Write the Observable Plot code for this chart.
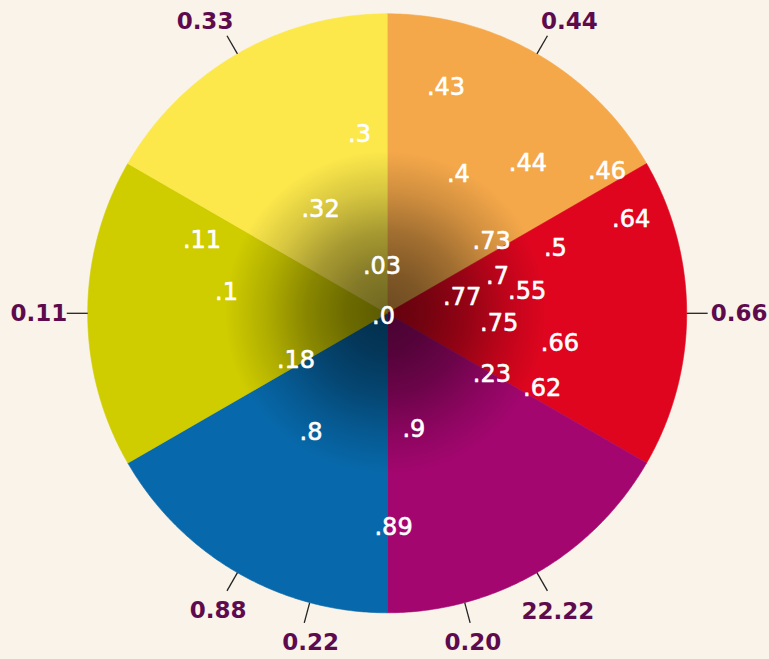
<!DOCTYPE html>
<html>
<head>
<meta charset="utf-8">
<script src="https://cdn.jsdelivr.net/npm/d3@7"></script>
<script src="https://cdn.jsdelivr.net/npm/@observablehq/plot@0.6"></script>
<style>
  html, body { margin: 0; padding: 0; background: #FAF3E9; }
  #chart svg { display: block; }
</style>
</head>
<body>
<div id="chart"></div>
<script>
// ---- Data ----
// pie sectors, clockwise from 12 o'clock (equal shares)
const sectorNames  = ["orange", "red", "magenta", "blue", "olive", "yellow"];
const sectorValues = [1, 1, 1, 1, 1, 1];
const sectorColors = ["#F5A84A", "#E0051F", "#A3066F", "#0769AB", "#CFCC00", "#FCE84B"];

// labels inside the pie: text, angle (deg, clockwise from top), radius (fraction of pie radius)
const innerLabels  = [".43", ".3", ".4", ".44", ".46", ".64", ".32", ".11", ".73", ".5", ".03", ".7",
                      ".55", ".1", ".77", ".0", ".75", ".66", ".18", ".23", ".62", ".8", ".9", ".89"];
const innerAngles  = [14.6, 351.2, 27.1, 43.2, 57.2, 68.9, 327.4, 291.6, 55.5, 68.9, 353.7, 71.3,
                      80.9, 277.4, 77.7, 234, 95.0, 99.8, 242.9, 120.3, 115.9, 212.7, 167.0, 178.3];
const innerRadii   = [0.779, 0.604, 0.522, 0.686, 0.873, 0.873, 0.413, 0.665, 0.423, 0.602, 0.157, 0.389,
                      0.473, 0.541, 0.256, 0.015, 0.375, 0.585, 0.342, 0.405, 0.575, 0.471, 0.397, 0.716];

// labels outside the pie, with leader ticks
const outerLabels      = ["0.44", "0.66", "22.22", "0.20", "0.22", "0.88", "0.11", "0.33"];
const outerTickAngles  = [30, 90, 150, 165, 195, 210, 270, 330];
const outerLabelAngles = [32.0, 90, 150.2, 165.4, 193.1, 209.6, 270, 328.0];
const outerLabelRadii  = [1.148, 1.175, 1.146, 1.135, 1.128, 1.143, 1.163, 1.148];

// ---- Geometry helpers (data -> polar -> x/y in pie-radius units) ----
const rad = (deg) => deg * Math.PI / 180;
const px = (a, r) => r * Math.sin(a);
const py = (a, r) => r * Math.cos(a);

const pie = d3.pie().sort(null).value(d => d)(sectorValues);
const sectorPts = [];
pie.forEach((p, i) => {
  const name = sectorNames[i];
  const color = sectorColors[i];
  sectorPts.push({s: name, c: color, x: 0, y: 0});
  const steps = 120;
  for (let k = 0; k <= steps; k++) {
    const a = p.startAngle + (p.endAngle - p.startAngle) * k / steps;
    sectorPts.push({s: name, c: color, x: px(a, 1), y: py(a, 1)});
  }
  sectorPts.push({s: name, c: color, x: 0, y: 0});
});

const inner = innerLabels.map((t, i) => ({
  t, x: px(rad(innerAngles[i]), innerRadii[i]), y: py(rad(innerAngles[i]), innerRadii[i])
}));

const tickLen = 1.07;
const ticks = outerTickAngles.map(a => ({
  x1: px(rad(a), 1), y1: py(rad(a), 1), x2: px(rad(a), tickLen), y2: py(rad(a), tickLen)
}));
const outer = outerLabels.map((t, i) => ({
  t, x: px(rad(outerLabelAngles[i]), outerLabelRadii[i]), y: py(rad(outerLabelAngles[i]), outerLabelRadii[i])
}));

const shadeRadius = 0.54;

const shade = (index, scales) => {
  const g = d3.create("svg:g");
  const grad = g.append("defs").append("radialGradient")
    .attr("id", "shade").attr("cx", "50%").attr("cy", "50%").attr("r", "50%");
  [[0, 0.56], [0.25, 0.48], [0.5, 0.34], [0.75, 0.15], [1, 0]].forEach(([o, op]) => {
    grad.append("stop").attr("offset", o).attr("stop-color", "#000").attr("stop-opacity", op);
  });
  const cx = scales.x(0), cy = scales.y(0);
  const R = scales.x(shadeRadius) - cx;
  g.append("circle").attr("cx", cx).attr("cy", cy).attr("r", R).attr("fill", "url(#shade)");
  return g.node();
};

const chart = Plot.plot({
  width: 769,
  height: 659,
  margin: 0,
  style: {background: "#FAF3E9", overflow: "visible"},
  x: {domain: [-1.2912, 1.2765], axis: null},
  y: {domain: [-1.1559, 1.0444], axis: null},
  color: {type: "identity"},
  marks: [
    Plot.line(sectorPts, {x: "x", y: "y", z: "s", fill: "c", stroke: "c", strokeWidth: 0.6, curve: "linear"}),
    shade,
    Plot.link(ticks, {x1: "x1", y1: "y1", x2: "x2", y2: "y2", stroke: "#222", strokeWidth: 1.3}),
    Plot.text(inner, {x: "x", y: "y", text: "t", fill: "white", stroke: "white", strokeWidth: 0.6,
      fontSize: 24, fontFamily: "'DejaVu Sans', sans-serif", fontWeight: "normal"}),
    Plot.text(outer, {x: "x", y: "y", text: "t", fill: "#5E0B4E", fontSize: 23,
      fontFamily: "'DejaVu Sans', sans-serif", fontWeight: "bold"})
  ]
});
document.getElementById("chart").append(chart);
</script>
</body>
</html>
